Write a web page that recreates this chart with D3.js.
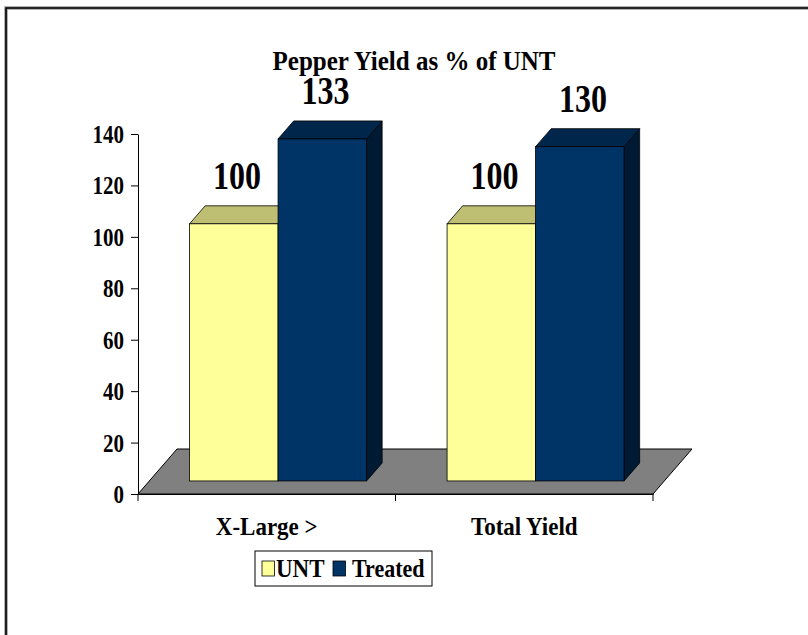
<!DOCTYPE html>
<html>
<head>
<meta charset="utf-8">
<script src="https://cdn.jsdelivr.net/npm/d3@7/dist/d3.min.js"></script>
<style>
  body { margin: 0; background: #fff; }
  svg { display: block; font-family: "Liberation Serif", "Times New Roman", serif; font-weight: bold; }
</style>
</head>
<body>
<svg id="chart" width="808" height="635"></svg>
<script>
const categories = ["X-Large >", "Total Yield"];
const series = ["UNT", "Treated"];
const unt = [100, 100];
const treated = [133, 130];
const yTicks = [0, 20, 40, 60, 80, 100, 120, 140];

const colors = {
  UNT: { front: "#ffff99", top: "#bfbf73", side: "#7f7f4c" },
  Treated: { front: "#003366", top: "#00264c", side: "#001a33" }
};

const svg = d3.select("#chart");

// plot frame (front plane)
const plotLeft = 138, plotRight = 653, plotTop = 134, plotBottom = 494;
// depth of the floor in px, bars sit in the middle of it
const depthX = 39, depthY = 45;
const zFront = 0.29, zBack = 0.69;

const x = d3.scaleBand().domain(categories).range([plotLeft, plotRight]).paddingInner(0).paddingOuter(0);
const xInner = d3.scaleBand().domain(series).range([0, x.bandwidth()]).paddingInner(0).paddingOuter(0.455);
const y = d3.scaleLinear().domain([0, 140]).range([plotBottom, plotTop]);

// project a point (screen x at front plane, value, depth 0..1)
const px = (sx, z) => sx + z * depthX;
const py = (v, z) => y(v) - z * depthY;

// outer border (top and left visible)
svg.append("path")
  .attr("d", "M6,640 L6,8 L815,8")
  .attr("fill", "none").attr("stroke", "#999").attr("stroke-width", 3.5);
svg.append("path")
  .attr("d", "M6,640 L6,8 L815,8")
  .attr("fill", "none").attr("stroke", "#000").attr("stroke-width", 1.6);

// title
svg.append("text")
  .attr("transform", "translate(414,70) scale(1,1.1)")
  .attr("text-anchor", "middle")
  .style("font-size", "25px")
  .text("Pepper Yield as % of UNT");

// floor
const floorPts = [[plotLeft, 0, 0], [plotRight, 0, 0], [plotRight, 0, 1], [plotLeft, 0, 1]]
  .map(p => [px(p[0], p[2]), py(p[1], p[2])]);
svg.append("polygon")
  .attr("points", floorPts.map(p => p.join(",")).join(" "))
  .attr("fill", "#808080").attr("stroke", "#000").attr("stroke-width", 1);

// y axis
const yAxis = svg.append("g")
  .attr("transform", `translate(${plotLeft},0)`)
  .call(d3.axisLeft(y).tickValues(yTicks).tickSize(7).tickSizeOuter(0).tickPadding(7));
yAxis.select(".domain").attr("stroke", "#000");
yAxis.selectAll("text")
  .style("font-size", "21px").style("font-family", "Liberation Serif").style("font-weight", "bold")
  .attr("fill", "#000")
  .attr("dy", "0.34em")
  .attr("transform", "scale(1,1.18)");

// x axis
const xAxis = svg.append("g")
  .attr("transform", `translate(0,${plotBottom})`)
  .call(d3.axisBottom(x).tickSize(0));
xAxis.select(".domain").attr("stroke", "#000");
xAxis.selectAll("text")
  .style("font-size", "23px").style("font-family", "Liberation Serif").style("font-weight", "bold")
  .attr("fill", "#000")
  .attr("y", 0).attr("dy", 0)
  .attr("transform", "translate(0,41) scale(1,1.12)");
const bounds = [x(categories[0])].concat(categories.map(c => x(c) + x.bandwidth()));
xAxis.selectAll(".bound").data(bounds).enter().append("line")
  .attr("x1", d => d).attr("x2", d => d).attr("y1", 0).attr("y2", 7)
  .attr("stroke", "#000");

// bars
const values = { UNT: unt, Treated: treated };
const bars = [];
categories.forEach((c, i) => {
  series.forEach(s => bars.push({ cat: c, s: s, v: values[s][i] }));
});

const poly = pts => pts.map(p => p.join(",")).join(" ");

const g = svg.append("g");
bars.forEach(b => {
  const x0 = x(b.cat) + xInner(b.s);
  const x1 = x0 + xInner.bandwidth();
  const col = colors[b.s];
  // side face
  g.append("polygon")
    .attr("points", poly([[px(x1, zFront), py(0, zFront)], [px(x1, zBack), py(0, zBack)],
      [px(x1, zBack), py(b.v, zBack)], [px(x1, zFront), py(b.v, zFront)]]))
    .attr("fill", col.side).attr("stroke", "#000").attr("stroke-width", 0.8);
  // top face
  g.append("polygon")
    .attr("points", poly([[px(x0, zFront), py(b.v, zFront)], [px(x1, zFront), py(b.v, zFront)],
      [px(x1, zBack), py(b.v, zBack)], [px(x0, zBack), py(b.v, zBack)]]))
    .attr("fill", col.top).attr("stroke", "#000").attr("stroke-width", 0.8);
  // front face
  g.append("rect")
    .attr("x", px(x0, zFront)).attr("y", py(b.v, zFront))
    .attr("width", x1 - x0).attr("height", y(0) - y(b.v))
    .attr("fill", col.front).attr("stroke", "#000").attr("stroke-width", 0.8);
});

// data labels
bars.forEach(b => {
  const x0 = x(b.cat) + xInner(b.s);
  const cx = px(x0 + xInner.bandwidth() / 2, 0.37);
  const by = py(b.v, zBack) - 17;
  svg.append("text")
    .attr("transform", `translate(${cx},${by}) scale(1,1.28)`)
    .attr("text-anchor", "middle")
    .style("font-size", "32px")
    .text(b.v);
});

// legend
const lg = svg.append("g").attr("transform", "translate(255,551)");
lg.append("rect").attr("width", 177).attr("height", 35)
  .attr("fill", "#fff").attr("stroke", "#000").attr("stroke-width", 1);
const legendItems = [
  { s: "UNT", sx: 7, tx: 21 },
  { s: "Treated", sx: 78, tx: 97 }
];
legendItems.forEach(it => {
  lg.append("rect").attr("x", it.sx).attr("y", 10).attr("width", 12.5).attr("height", 15)
    .attr("fill", colors[it.s].front).attr("stroke", "#000").attr("stroke-width", 0.8);
  lg.append("text")
    .attr("transform", `translate(${it.tx},26) scale(1,1.1)`)
    .style("font-size", it.s === "UNT" ? "23px" : "22px")
    .text(it.s);
});
</script>
</body>
</html>
